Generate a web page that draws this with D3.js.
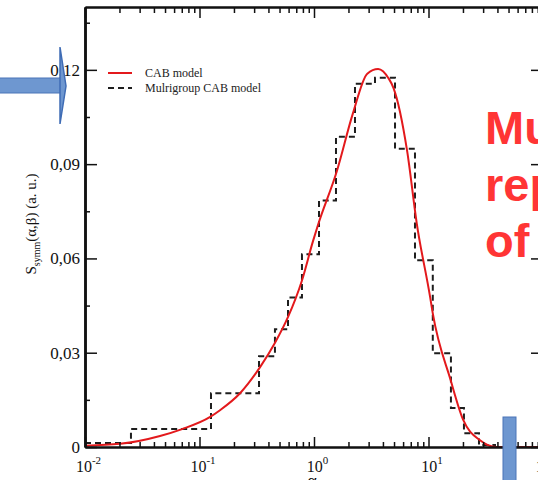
<!DOCTYPE html>
<html>
<head>
<meta charset="utf-8">
<script src="https://cdn.jsdelivr.net/npm/d3@7"></script>
<style>
  html, body { margin: 0; padding: 0; background: #fff; }
  svg { display: block; }
  .axis text { font-family: "Liberation Serif", "DejaVu Serif", serif; fill: #111; }
</style>
</head>
<body>
<svg id="chart" width="538" height="480"></svg>
<script>
// CAB model
const cabAlpha = [0.01, 0.0202, 0.0452, 0.0704, 0.123, 0.151, 0.226, 0.338, 0.454, 0.592, 0.785, 0.98, 1.08,
                  1.59, 2.18, 2.92, 3.63, 4.5, 4.94, 6.5, 7.9, 10.3, 10.9, 15.6, 20.1, 28, 39, 100];
const cabS = [0.0004, 0.001, 0.0035, 0.0057, 0.0095, 0.0117, 0.0171, 0.0254, 0.033, 0.0413, 0.053, 0.0655, 0.0705,
              0.088, 0.106, 0.1188, 0.1203, 0.1172, 0.1143, 0.0943, 0.0711, 0.048, 0.0425, 0.0213, 0.0086, 0.0022, 0, 0];

// Multigroup CAB model: group boundaries and group values
const groupEdges = [0.01, 0.0252, 0.126, 0.331, 0.456, 0.593, 0.785, 1.106, 1.556, 2.28, 3.41, 5.10,
                    7.62, 10.9, 15.7, 20.4, 27.6, 38.1, 100];
const groupS = [0.0013, 0.0057, 0.0171, 0.0289, 0.0375, 0.0476, 0.0613, 0.0784, 0.0987, 0.1156, 0.1175,
                0.0949, 0.0594, 0.0298, 0.0124, 0.0044, 0.0006, 0];

const yTicks = [0, 0.03, 0.06, 0.09, 0.12];
const yMinor = [0.015, 0.045, 0.075, 0.105, 0.135];
const xDecades = [0.01, 0.1, 1, 10, 100];
const xExponents = ["-2", "-1", "0", "1", "2"];
const legendLabels = ["CAB model", "Mulrigroup CAB model"];
const overlayWords = ["Mu", "rep", "of"];

const svg = d3.select("#chart");
const plotL = 85, plotR = 543, plotT = 7, plotB = 447;

const x = d3.scaleLog().domain([0.01, 100]).range([plotL, plotR]);
const y = d3.scaleLinear().domain([0, 0.14]).range([plotB, plotT]);

// minor ticks 2..9 in each decade
const xMinor = [];
xDecades.slice(0, -1).forEach(d => { for (let k = 2; k <= 9; k++) xMinor.push(d * k); });

svg.append("rect").attr("width", 538).attr("height", 480).attr("fill", "#fff");

svg.append("clipPath").attr("id", "plot")
   .append("rect").attr("x", plotL).attr("y", plotT).attr("width", plotR - plotL).attr("height", plotB - plotT);

// Data
const stepLine = d3.line()
                   .x((d, i) => x(groupEdges[i]))
                   .y(d => y(d))
                   .curve(d3.curveStepAfter);
svg.append("path")
   .attr("clip-path", "url(#plot)")
   .attr("d", stepLine(groupS.concat([0])))
   .attr("fill", "none")
   .attr("stroke", "#1e1e1e")
   .attr("stroke-width", 2)
   .attr("stroke-dasharray", "6,4");

const cabLine = d3.line()
                  .x((d, i) => x(cabAlpha[i]))
                  .y(d => y(d))
                  .curve(d3.curveMonotoneX);
svg.append("path")
   .attr("clip-path", "url(#plot)")
   .attr("d", cabLine(cabS))
   .attr("fill", "none")
   .attr("stroke", "#e3191c")
   .attr("stroke-width", 2);

// Axes (ticks point inwards, like the Grace frame)
function styleAxis(g, width) {
   g.select(".domain").attr("stroke", "#111").attr("stroke-width", width);
   g.selectAll(".tick line").attr("stroke", "#111").attr("stroke-width", 1.5);
}

const gBottomMinor = svg.append("g").attr("class", "axis")
   .attr("transform", `translate(0,${plotB})`)
   .call(d3.axisBottom(x).tickValues(xMinor).tickSize(-5).tickSizeOuter(0).tickFormat(""));
styleAxis(gBottomMinor, 2);

const gBottom = svg.append("g").attr("class", "axis")
   .attr("transform", `translate(0,${plotB})`)
   .call(d3.axisBottom(x).tickValues(xDecades).tickSize(-10).tickSizeOuter(0).tickPadding(14).tickFormat(""));
styleAxis(gBottom, 2);
gBottom.selectAll(".tick text")
   .attr("font-size", 16)
   .attr("text-anchor", "middle")
   .attr("dx", 3)
   .each(function(d, i) {
      const t = d3.select(this);
      t.append("tspan").text("10");
      t.append("tspan").attr("font-size", 11).attr("dy", -8).text(xExponents[i]);
   });

const gTopMinor = svg.append("g").attr("class", "axis")
   .attr("transform", `translate(0,${plotT})`)
   .call(d3.axisTop(x).tickValues(xMinor).tickSize(-6).tickSizeOuter(0).tickFormat(""));
styleAxis(gTopMinor, 2);
const gTop = svg.append("g").attr("class", "axis")
   .attr("transform", `translate(0,${plotT})`)
   .call(d3.axisTop(x).tickValues(xDecades).tickSize(-11).tickSizeOuter(0).tickFormat(""));
styleAxis(gTop, 2);

const gLeftMinor = svg.append("g").attr("class", "axis")
   .attr("transform", `translate(${plotL},0)`)
   .call(d3.axisLeft(y).tickValues(yMinor).tickSize(-5).tickSizeOuter(0).tickFormat(""));
styleAxis(gLeftMinor, 2.5);
const gLeft = svg.append("g").attr("class", "axis")
   .attr("transform", `translate(${plotL},0)`)
   .call(d3.axisLeft(y).tickValues(yTicks).tickSize(-12).tickSizeOuter(0).tickPadding(5)
      .tickFormat(d => d === 0 ? "0" : d3.format(".2f")(d).replace(".", ",")));
styleAxis(gLeft, 2.5);
gLeft.selectAll(".tick text").attr("font-size", 17);

const gRightMinor = svg.append("g").attr("class", "axis")
   .attr("transform", `translate(${plotR},0)`)
   .call(d3.axisRight(y).tickValues(yMinor).tickSize(-5).tickSizeOuter(0).tickFormat(""));
styleAxis(gRightMinor, 2);
const gRight = svg.append("g").attr("class", "axis")
   .attr("transform", `translate(${plotR},0)`)
   .call(d3.axisRight(y).tickValues(yTicks).tickSize(-12).tickSizeOuter(0).tickFormat(""));
styleAxis(gRight, 2);

// Axis titles
svg.append("text")
   .attr("x", 312).attr("y", 487)
   .attr("text-anchor", "middle")
   .attr("font-family", "Liberation Serif, serif")
   .attr("font-size", 18)
   .text("α");

const yTitle = svg.append("text")
   .attr("transform", "translate(36,224) rotate(-90)")
   .attr("text-anchor", "middle")
   .attr("font-family", "Liberation Serif, serif")
   .attr("font-size", 15)
   .attr("fill", "#111");
yTitle.append("tspan").text("S");
yTitle.append("tspan").attr("font-size", 10).attr("dy", 4).text("symm");
yTitle.append("tspan").attr("dy", -4).text("(α,β) (a. u.)");

// Legend
const legend = svg.append("g").attr("font-family", "Liberation Serif, serif").attr("font-size", 12);
legendLabels.forEach((lab, i) => {
   const ly = 73 + i * 15;
   legend.append("line")
         .attr("x1", 108).attr("x2", 132).attr("y1", ly).attr("y2", ly)
         .attr("stroke", i === 0 ? "#e3191c" : "#1e1e1e")
         .attr("stroke-width", 2)
         .attr("stroke-dasharray", i === 0 ? null : "6,4");
   legend.append("text").attr("x", 145).attr("y", ly + 4).attr("fill", "#222").text(lab);
});

// Slide overlay: arrow, bar and red title
const arrow = svg.append("g");
arrow.append("rect")
     .attr("x", -2).attr("y", 78).attr("width", 63).attr("height", 15)
     .attr("fill", "#6e97d0").attr("stroke", "#4a74b8").attr("stroke-width", 1);
arrow.append("path")
     .attr("d", "M60,47 L66,86 L60,124 Z")
     .attr("fill", "#6e97d0").attr("stroke", "#3f6cb5").attr("stroke-width", 1.5);

svg.append("rect")
   .attr("x", 503).attr("y", 417).attr("width", 13).attr("height", 70)
   .attr("fill", "#6e97d0").attr("stroke", "#4a74b8").attr("stroke-width", 1);

overlayWords.forEach((w, i) => {
   svg.append("text")
      .attr("x", 485).attr("y", [144, 201, 257][i])
      .attr("font-family", "Liberation Sans, Arial, sans-serif")
      .attr("font-weight", "bold")
      .attr("font-size", 47)
      .attr("fill", "#ff3535")
      .text(w);
});
</script>
</body>
</html>
